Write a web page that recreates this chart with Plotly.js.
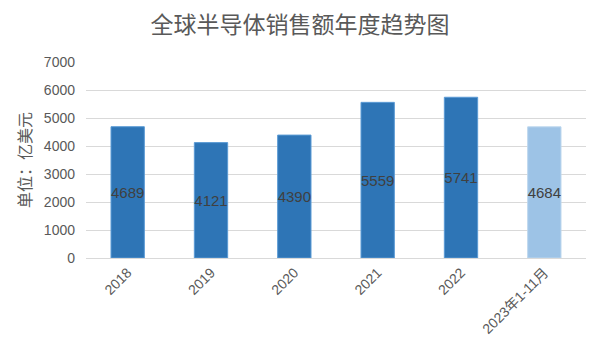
<!DOCTYPE html>
<html><head><meta charset="utf-8">
<script src="https://cdn.plot.ly/plotly-3.0.1.min.js"></script>
<style>html,body{margin:0;padding:0;background:#fff}#chart{width:600px;height:355px}</style>
</head><body><div id="chart"></div>
<script>
const categories = ['2018','2019','2020','2021','2022','2023年1-11月'];
const values = [4689, 4121, 4390, 5559, 5741, 4684];
const barColors = ['#2E75B6','#2E75B6','#2E75B6','#2E75B6','#2E75B6','#9DC3E6'];
const lineColors = ['#5B9BD5','#5B9BD5','#5B9BD5','#5B9BD5','#5B9BD5','#BDD7EE'];
const yTicks = [0,1000,2000,3000,4000,5000,6000,7000];
const font = '"Liberation Sans","Noto Sans CJK SC",sans-serif';
const cjk = '"Noto Sans CJK SC",sans-serif';
Plotly.newPlot('chart', [{
  type: 'bar', x: categories, y: values,
  marker: {color: barColors, line: {color: lineColors, width: 1}},
  width: 0.4,
  text: values.map(String), textposition: 'inside', insidetextanchor: 'middle',
  textangle: 0, cliponaxis: false,
  textfont: {family: font, size: 15, color: '#404040'},
  hoverinfo: 'x+y'
}], {
  width: 600, height: 355,
  margin: {l: 86, r: 14, t: 62, b: 97},
  paper_bgcolor: '#fff', plot_bgcolor: '#fff',
  font: {family: font, color: '#595959'},
  title: {text: '全球半导体销售额年度趋势图', x: 0.5, xanchor: 'center', y: 0.93, yanchor: 'middle', font: {size: 23, color: '#595959', family: cjk}},
  xaxis: {type: 'category', tickangle: -45, tickfont: {size: 14, color: '#595959', family: font}, showline: true, linecolor: '#d9d9d9', linewidth: 1, ticks: '', showgrid: false},
  yaxis: {range: [0, 7000], tickvals: yTicks, ticktext: yTicks.map(String), tickfont: {size: 14, color: '#595959', family: font}, gridcolor: '#d9d9d9', gridwidth: 1, zeroline: false, showline: false, ticklabelstandoff: 10,
    title: {text: '单位：亿美元', font: {size: 16, color: '#595959', family: cjk}, standoff: 8}},
  showlegend: false,
  uniformtext: {mode: false},
  bargap: 0.6
}, {displayModeBar: false, staticPlot: true});
Plotly.restyle('chart', {constraintext: 'none'});
</script></body></html>
